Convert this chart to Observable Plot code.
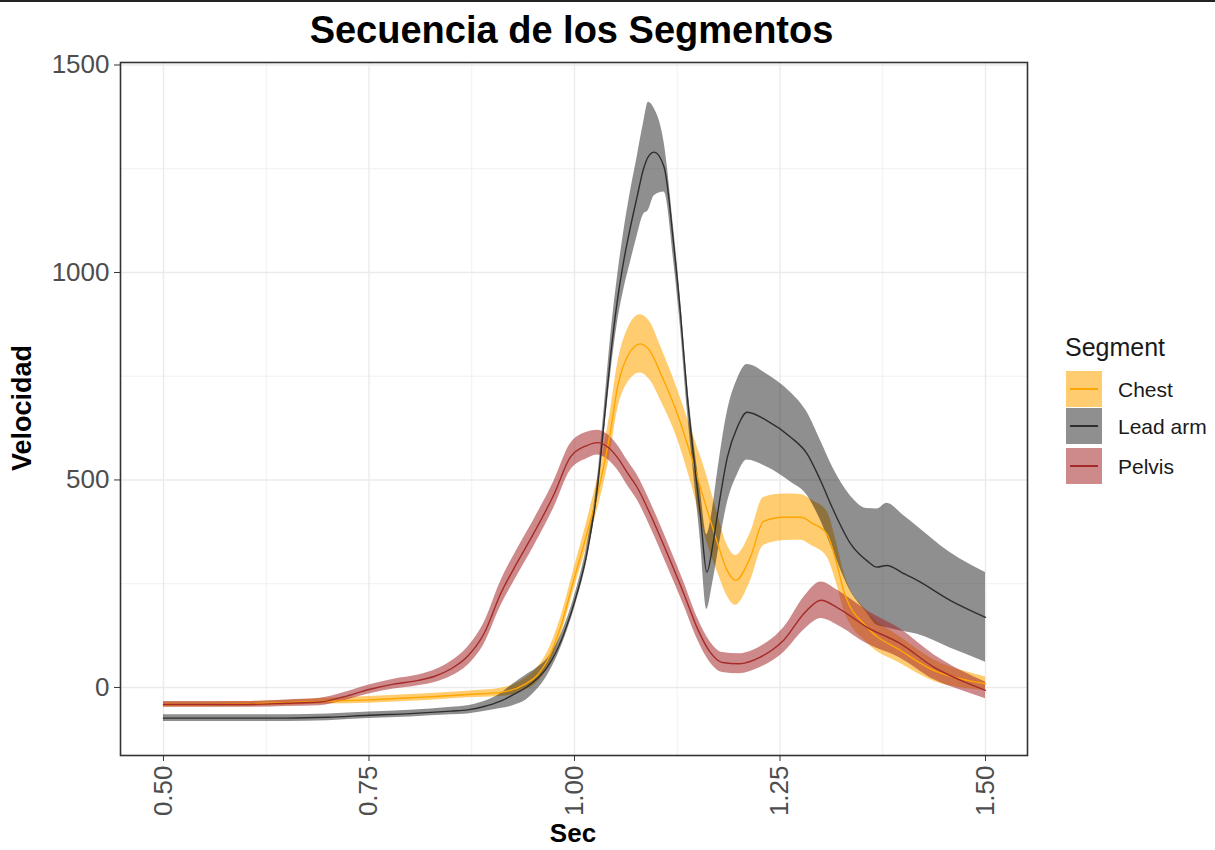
<!DOCTYPE html>
<html><head><meta charset="utf-8">
<script src="https://cdn.jsdelivr.net/npm/d3@7"></script>
<script src="https://cdn.jsdelivr.net/npm/@observablehq/plot@0.6"></script>
<style>
body{margin:0;background:#fff;font-family:"Liberation Sans",Arial,sans-serif;}
#wrap{position:relative;width:1215px;height:850px;overflow:hidden;background:#fff;}
#wrap svg{position:absolute;left:0;top:0;}
.topline{position:absolute;left:0;top:0;width:1215px;height:2px;background:#222;}
.title{position:absolute;left:0;top:11px;width:1143px;text-align:center;font-weight:bold;font-size:38px;line-height:38px;color:#000;}
.ylab{position:absolute;left:22px;top:408px;transform:translate(-50%,-50%) rotate(-90deg);font-weight:bold;font-size:27px;white-space:nowrap;color:#000;}
.xlab{position:absolute;left:573px;top:833px;transform:translate(-50%,-50%);font-weight:bold;font-size:26px;line-height:28px;color:#000;}
.legtitle{position:absolute;left:1065px;top:347px;transform:translateY(-50%);font-size:25px;color:#1a1a1a;}
.key{position:absolute;left:1066px;width:36px;height:36px;}
.key .ln{position:absolute;left:4px;right:4px;top:17px;height:1.5px;}
.klab{position:absolute;left:1118px;transform:translateY(-50%);font-size:21px;color:#1a1a1a;white-space:nowrap;}
</style></head><body><div id="wrap"></div>
<script>
// ---- Data ----
const segments = ["Chest", "Lead arm", "Pelvis"];

const pelvisSec  = [0.50,0.55,0.60,0.65,0.69,0.72,0.75,0.78,0.81,0.83,0.85,0.87,0.89,0.91,0.93,0.95,0.975,0.995,1.015,1.028,1.04,1.052,1.065,1.076,1.092,1.113,1.133,1.15,1.165,1.18,1.20,1.226,1.255,1.28,1.30,1.32,1.356,1.397,1.437,1.47,1.50];
const pelvisMean = [-41,-41,-41,-38,-35,-22,-5,8,17,27,45,75,130,225,300,370,465,555,583,590,580,555,515,483,418,322,226,140,85,60,57,73,115,180,210,192,145,105,49,17,-7];
const pelvisSE   = [7,7,7,8,9,10,11,12,13,15,18,22,26,30,32,32,32,32,32,30,30,30,30,30,30,30,28,26,25,24,24,25,30,40,44,42,40,35,30,24,20];

const chestSec  = [0.50,0.55,0.60,0.65,0.70,0.75,0.80,0.83,0.87,0.91,0.94,0.955,0.967,0.983,0.999,1.015,1.032,1.044,1.052,1.065,1.080,1.092,1.105,1.125,1.141,1.161,1.174,1.185,1.196,1.214,1.230,1.255,1.275,1.29,1.307,1.318,1.328,1.356,1.397,1.437,1.478,1.50];
const chestMean = [-41,-41,-40,-37,-33,-30,-25,-22,-17,-12,8,30,65,145,258,370,500,620,720,800,828,810,756,660,563,430,348,285,258,314,400,410,410,395,370,306,230,145,89,41,17,9];
const chestSE   = [6,6,6,6,7,8,8,8,8,10,14,18,20,22,25,30,40,50,55,65,70,70,65,60,65,80,70,62,60,58,58,56,55,55,55,50,45,38,32,26,20,16];

const leadSec  = [0.50,0.55,0.60,0.65,0.70,0.75,0.80,0.85,0.87,0.89,0.91,0.925,0.942,0.955,0.967,0.987,1.003,1.015,1.028,1.036,1.044,1.052,1.060,1.068,1.076,1.084,1.090,1.097,1.109,1.121,1.129,1.137,1.145,1.153,1.161,1.168,1.174,1.186,1.198,1.210,1.234,1.263,1.283,1.299,1.315,1.336,1.356,1.368,1.380,1.40,1.417,1.457,1.50];
const leadMean = [-74,-74,-74,-74,-72,-67,-63,-57,-54,-46,-33,-18,1,22,49,129,226,322,483,640,800,930,1029,1109,1181,1250,1280,1290,1254,1061,900,707,555,418,278,340,418,555,627,663,643,603,563,500,427,346,305,290,294,275,258,210,169];
const leadSE   = [8,8,8,8,8,8,8,9,10,12,18,26,30,26,20,15,15,18,20,30,45,55,70,85,95,110,130,105,60,40,35,35,40,60,90,90,100,110,115,115,112,108,100,96,100,115,126,140,150,140,130,115,108];

const xTicks = [0.50, 0.75, 1.00, 1.25, 1.50];
const xMinor = [0.625, 0.875, 1.125, 1.375];
const yTicks = [0, 500, 1000, 1500];
const yMinor = [250, 750, 1250];

const lineColors = {"Chest": "#FFA500", "Lead arm": "#2e2e2e", "Pelvis": "#A52A2A"};
const fillColors = {"Chest": "#FFA500", "Lead arm": "#000000", "Pelvis": "#A52A2A"};
const fillOpacity = {"Chest": 0.56, "Lead arm": 0.44, "Pelvis": 0.55};

function rows(seg, xs, m, se) {
  return xs.map((x, i) => ({seg, sec: x, mean: m[i], lo: m[i] - se[i], hi: m[i] + se[i]}));
}
const series = {
  "Chest": rows("Chest", chestSec, chestMean, chestSE),
  "Lead arm": rows("Lead arm", leadSec, leadMean, leadSE),
  "Pelvis": rows("Pelvis", pelvisSec, pelvisMean, pelvisSE)
};

const curve = "monotone-x";
const marks = [
  Plot.ruleX(xMinor, {stroke: "#ebebeb", strokeWidth: 0.7}),
  Plot.ruleY(yMinor, {stroke: "#ebebeb", strokeWidth: 0.7}),
  Plot.ruleX(xTicks, {stroke: "#ebebeb", strokeWidth: 1.4}),
  Plot.ruleY(yTicks, {stroke: "#ebebeb", strokeWidth: 1.4})
];
for (const s of segments) {
  marks.push(Plot.areaY(series[s], {x: "sec", y1: "lo", y2: "hi", fill: fillColors[s], fillOpacity: fillOpacity[s], curve}));
}
for (const s of segments) {
  marks.push(Plot.lineY(series[s], {x: "sec", y: "mean", stroke: lineColors[s], strokeWidth: 1.4, curve}));
}
marks.push(Plot.frame({stroke: "#333333", strokeWidth: 1.6}));
marks.push(Plot.axisY({ticks: yTicks, tickSize: 6, tickPadding: 5, stroke: "#333333", fill: "#4d4d4d", label: null, tickFormat: d => String(d)}));
marks.push(Plot.axisX({ticks: xTicks, tickSize: 6, tickPadding: 4, tickRotate: -90, stroke: "#333333", fill: "#4d4d4d", label: null, tickFormat: d3.format(".2f")}));

const chart = Plot.plot({
  width: 1215, height: 850,
  marginLeft: 120, marginTop: 62, marginRight: 188, marginBottom: 95,
  x: {domain: [0.4477, 1.5511]},
  y: {domain: [-164, 1506]},
  style: {fontFamily: "Liberation Sans, Arial, sans-serif", fontSize: "26px", background: "transparent", overflow: "visible"},
  marks
});

const wrap = document.getElementById("wrap");
wrap.appendChild(chart);
const add = (cls, text, style) => {
  const d = document.createElement("div");
  d.className = cls;
  if (text != null) d.textContent = text;
  if (style) Object.assign(d.style, style);
  wrap.appendChild(d);
  return d;
};
add("topline");
add("title", "Secuencia de los Segmentos");
add("ylab", "Velocidad");
add("xlab", "Sec");
add("legtitle", "Segment");
const keyTops = [371, 408, 448];
segments.forEach((s, i) => {
  const k = add("key", null, {top: keyTops[i] + "px"});
  const bg = document.createElement("div");
  Object.assign(bg.style, {position: "absolute", inset: "0", background: fillColors[s], opacity: fillOpacity[s]});
  k.appendChild(bg);
  const ln = document.createElement("div");
  ln.className = "ln";
  ln.style.background = lineColors[s];
  k.appendChild(ln);
  add("klab", s, {top: (keyTops[i] + 19) + "px"});
});
</script></body></html>
